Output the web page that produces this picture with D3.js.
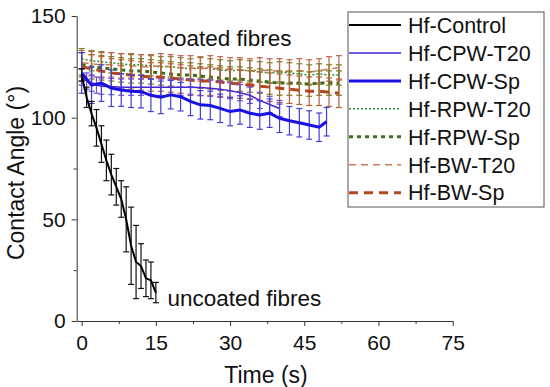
<!DOCTYPE html>
<html>
<head>
<meta charset="utf-8">
<script src="https://cdn.jsdelivr.net/npm/d3@7"></script>
<style>
  body { margin: 0; background: #fff; }
  svg { display: block; font-family: Arial, "Liberation Sans", sans-serif; }
</style>
</head>
<body>
<svg id="chart" width="550" height="387"></svg>
<script>
// values
var ctrlT = [0, 1, 2, 3, 4, 5, 6, 7, 8, 9, 10, 11, 12, 13, 14, 15];
var ctrlV = [121, 110, 102, 95, 87, 79, 72, 66, 60, 50, 37, 29, 27, 21, 20, 14];
var ctrlE = [3, 5, 6, 9, 9, 10, 10, 9, 9, 16, 19, 18, 11, 9, 9, 5];

var cpwSpT = [0, 2, 4, 6, 8, 10, 12, 14, 16, 18, 20, 22, 24, 26, 28, 30, 32, 34, 36, 38, 40, 42, 44, 46, 48, 49.5];
var cpwSpV = [122, 116, 117, 114.5, 113.6, 113, 112.8, 111, 110, 111.3, 110.3, 108, 106.3, 106, 104.6, 103, 103.8, 102.2, 101.3, 102.2, 99.7, 98.5, 97.5, 96.4, 95.3, 98];
var cpwSpE = [10, 9, 9, 9, 8, 8, 8, 8, 8, 7, 7, 7, 7, 7, 7, 7, 7, 7, 7, 7, 7, 7, 7, 7, 7, 7];

var cpwT20T = [0, 1, 2, 3, 4, 6, 8, 10, 12, 14, 16, 18, 20, 22, 24, 26, 28, 30, 32, 34, 36, 38, 40];
var cpwT20V = [120, 118, 117, 116, 115.5, 115.3, 115, 115, 115, 115, 115, 115, 115, 115, 114.8, 114.5, 114, 113.3, 112.3, 111, 108.5, 106.5, 104.5];
var cpwT20E = [4, 4, 4, 4, 4, 4, 4, 4, 4, 4, 4, 4, 4, 4, 4, 4, 4, 4, 4, 4, 4, 4, 4];

var clusterT = [0, 2, 4, 6, 8, 10, 12, 14, 16, 18, 20, 22, 24, 26, 28, 30, 32, 34, 36, 38, 40, 42, 44, 46, 48, 50, 52];
var rpwT20V = [129, 128, 127.5, 127, 126.5, 126, 126, 125.5, 125, 125, 124.5, 124, 124.5, 124, 123.5, 123, 123.5, 123, 122.5, 122, 122.5, 122, 121.5, 121, 121.5, 121, 121];
var rpwT20E = [5, 5, 5, 5, 5, 5, 5, 5, 5, 5, 5, 5, 5, 5, 5, 5, 5, 5, 5, 5, 5, 5, 5, 5, 5, 5, 5];
var rpwSpV = [126, 125, 124.5, 124, 123.5, 123, 123, 122.5, 122, 121.5, 121, 121, 120.5, 120, 119.5, 119, 119, 118.5, 118, 117.5, 117, 117, 117, 116.5, 117, 117, 117];
var rpwSpE = [6, 6, 6, 6, 6, 6, 6, 6, 6, 6, 6, 6, 6, 6, 6, 6, 6, 6, 6, 6, 6, 6, 6, 6, 6, 6, 6];
var bwT20V = [127, 126.5, 126, 126, 125.5, 125.5, 125, 125, 125.5, 125, 124.5, 124.5, 124, 124.5, 124, 123.5, 123.5, 123, 123.5, 123, 123, 122.5, 123, 122.5, 123, 124, 124.5];
var bwT20E = [6, 6, 6, 6, 6, 6, 6, 6, 6, 6, 6, 6, 6, 6, 6, 6, 6, 6, 6, 6, 6, 6, 6, 6, 6, 6, 6];
var bwSpV = [125, 124, 123, 122, 121.5, 121, 120.5, 120, 120, 119.5, 119, 118.5, 118, 118, 117.5, 117, 116.5, 116, 115.5, 115, 114.5, 114, 113.5, 113, 113, 112.5, 112];
var bwSpE = [7, 7, 7, 7, 7, 7, 7, 7, 7, 7, 7, 7, 7, 7, 7, 7, 7, 7, 7, 7, 7, 7, 7, 7, 7, 7, 7];

var xTicks = [0, 15, 30, 45, 60, 75];
var yTicks = [0, 50, 100, 150];
var legendNames = ["Hf-Control", "Hf-CPW-T20", "Hf-CPW-Sp", "Hf-RPW-T20", "Hf-RPW-Sp", "Hf-BW-T20", "Hf-BW-Sp"];

var series = [
    {name: "Hf-RPW-T20", t: clusterT, v: rpwT20V, e: rpwT20E, color: "#2e8b2e", bar: "#6b8a25", w: 1.5, dash: "2,2"},
    {name: "Hf-BW-T20", t: clusterT, v: bwT20V, e: bwT20E, color: "#cc7a55", bar: "#c8604e", w: 1.5, dash: "7,5"},
    {name: "Hf-RPW-Sp", t: clusterT, v: rpwSpV, e: rpwSpE, color: "#3d6e1f", bar: "#7a7a22", w: 3, dash: "4,4"},
    {name: "Hf-BW-Sp", t: clusterT, v: bwSpV, e: bwSpE, color: "#b2461f", bar: "#b5603a", w: 3, dash: "9,6"},
    {name: "Hf-CPW-T20", t: cpwT20T, v: cpwT20V, e: cpwT20E, color: "#4a22d6", bar: "#7050d0", w: 1.5, dash: null},
    {name: "Hf-CPW-Sp", t: cpwSpT, v: cpwSpV, e: cpwSpE, color: "#1a10e6", bar: "#4040d8", w: 3, dash: null},
    {name: "Hf-Control", t: ctrlT, v: ctrlV, e: ctrlE, color: "#000000", bar: "#111111", w: 2, dash: null}
];

var svg = d3.select("#chart");

var x = d3.scaleLinear().domain([-1, 75]).range([76.7, 452.7]);
var y = d3.scaleLinear().domain([0, 150]).range([321, 16]);

// axes
svg.append("g")
    .attr("transform", "translate(0," + y(0) + ")")
    .call(d3.axisBottom(x).tickValues(xTicks).tickSize(5).tickSizeOuter(0).tickPadding(9));
svg.append("g")
    .attr("transform", "translate(0," + y(0) + ")")
    .call(d3.axisBottom(x).tickValues([7.5, 22.5, 37.5, 52.5, 67.5]).tickSize(3).tickFormat(""))
    .select(".domain").remove();
svg.append("g")
    .attr("transform", "translate(" + x(-1) + ",0)")
    .call(d3.axisLeft(y).tickValues(yTicks).tickSize(5).tickSizeOuter(0).tickPadding(6));
svg.append("g")
    .attr("transform", "translate(" + x(-1) + ",0)")
    .call(d3.axisLeft(y).tickValues([25, 75, 125]).tickSize(3).tickFormat(""))
    .select(".domain").remove();

svg.selectAll(".tick text").attr("font-size", "21px").attr("fill", "#111")
    .attr("font-family", "Arial, 'Liberation Sans', sans-serif");
svg.selectAll(".domain, .tick line").attr("stroke", "#333");

// axis titles
svg.append("text")
    .attr("x", 266).attr("y", 383)
    .attr("text-anchor", "middle")
    .attr("font-size", "23px").attr("fill", "#111")
    .text("Time (s)");
svg.append("text")
    .attr("transform", "translate(24,173) rotate(-90)")
    .attr("text-anchor", "middle")
    .attr("font-size", "23px").attr("fill", "#111")
    .text("Contact Angle (°)");

// error bars then lines
var line = d3.line()
    .x(function(d) { return x(d.t); })
    .y(function(d) { return y(d.v); });

series.forEach(function(s) {
    var pts = s.t.map(function(t, i) {
        return {t: t, v: s.v[i], e: s.e[i]};
    });
    var g = svg.append("g").attr("class", "series");
    var bars = g.selectAll(".err").data(pts).enter().append("g").attr("class", "err")
        .attr("stroke", s.bar).attr("stroke-width", 1.2);
    bars.append("line")
        .attr("x1", function(d) { return x(d.t); })
        .attr("x2", function(d) { return x(d.t); })
        .attr("y1", function(d) { return y(d.v - d.e); })
        .attr("y2", function(d) { return y(d.v + d.e); });
    bars.append("line")
        .attr("x1", function(d) { return x(d.t) - 3; })
        .attr("x2", function(d) { return x(d.t) + 3; })
        .attr("y1", function(d) { return y(d.v - d.e); })
        .attr("y2", function(d) { return y(d.v - d.e); });
    bars.append("line")
        .attr("x1", function(d) { return x(d.t) - 3; })
        .attr("x2", function(d) { return x(d.t) + 3; })
        .attr("y1", function(d) { return y(d.v + d.e); })
        .attr("y2", function(d) { return y(d.v + d.e); });
    g.append("path")
        .datum(pts)
        .attr("d", line)
        .attr("fill", "none")
        .attr("stroke", s.color)
        .attr("stroke-width", s.w)
        .attr("stroke-dasharray", s.dash);
});

// annotations
svg.append("text")
    .attr("x", 162.7).attr("y", 46)
    .attr("font-size", "22.5px").attr("fill", "#111")
    .text("coated fibres");
svg.append("text")
    .attr("x", 167.5).attr("y", 306)
    .attr("font-size", "22.5px").attr("fill", "#111")
    .text("uncoated fibres");

// legend
var legend = svg.append("g").attr("class", "legend");
legend.append("rect")
    .attr("x", 348).attr("y", 12)
    .attr("width", 196).attr("height", 195)
    .attr("fill", "#fff")
    .attr("stroke", "#555").attr("stroke-width", 1);
var byName = {};
series.forEach(function(s) { byName[s.name] = s; });
var rows = legend.selectAll(".row").data(legendNames).enter().append("g")
    .attr("class", "row")
    .attr("transform", function(d, i) { return "translate(0," + (25 + i * 27.95) + ")"; });
rows.append("line")
    .attr("x1", 349).attr("x2", 401)
    .attr("y1", 0).attr("y2", 0)
    .attr("stroke", function(d) { return byName[d].color; })
    .attr("stroke-width", function(d) { return byName[d].w; })
    .attr("stroke-dasharray", function(d) { return byName[d].dash; });
rows.append("text")
    .attr("x", 408).attr("y", 0).attr("dy", "0.36em")
    .attr("font-size", "21.5px").attr("fill", "#111")
    .text(function(d) { return d; });
</script>
</body>
</html>
